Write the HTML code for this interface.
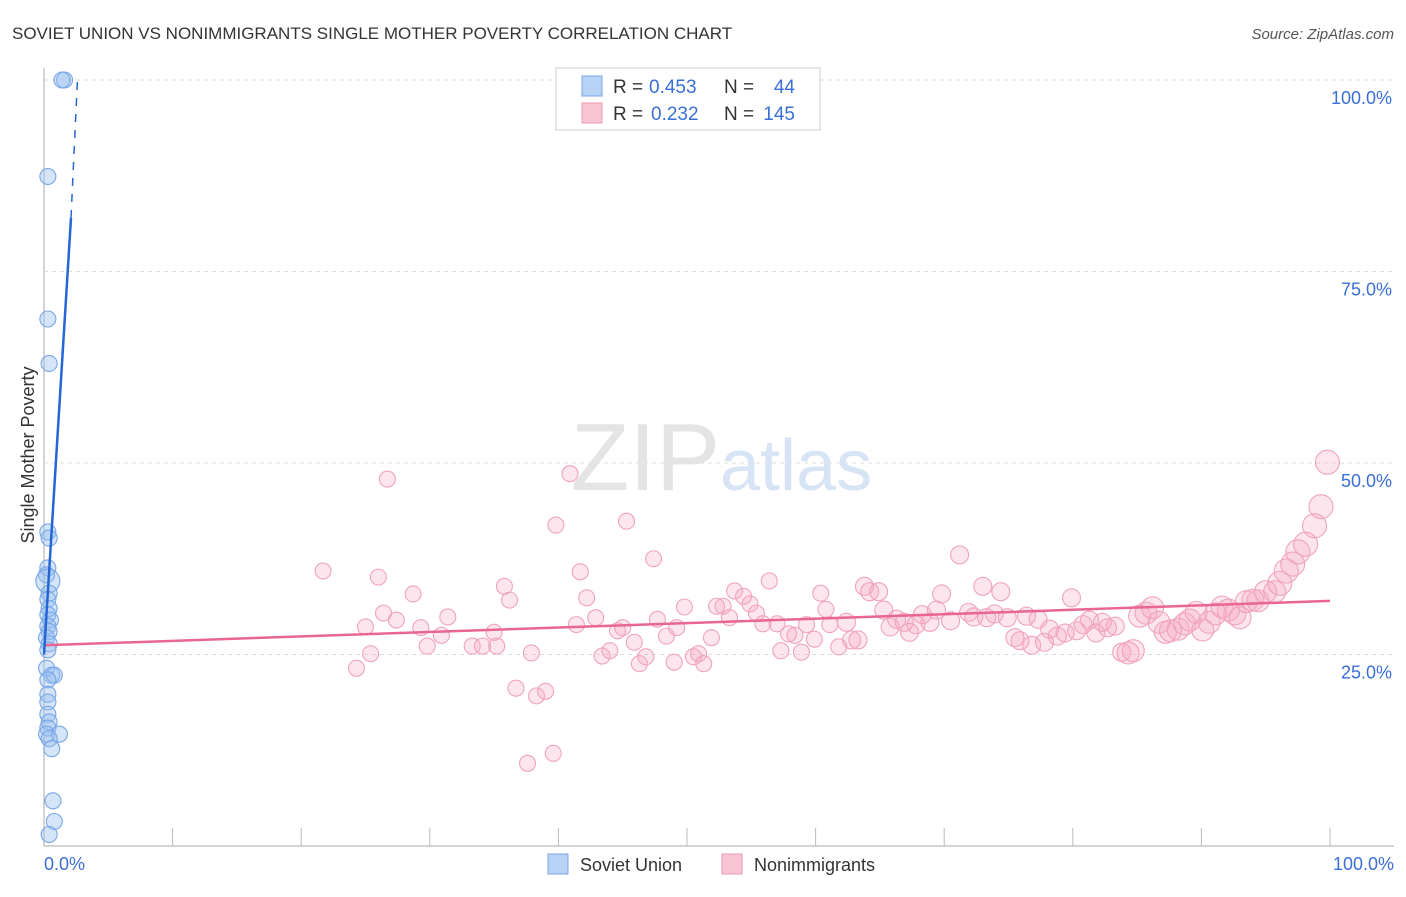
<!DOCTYPE html>
<html><head><meta charset="utf-8"><style>
body{margin:0;background:#fff;font-family:"Liberation Sans",sans-serif}
svg text{font-family:"Liberation Sans",sans-serif}
</style></head><body>
<svg id="chart" width="1406" height="892">
<text x="12" y="39" font-size="17" fill="#333">SOVIET UNION VS NONIMMIGRANTS SINGLE MOTHER POVERTY CORRELATION CHART</text>
<text x="1394" y="39" font-size="15" fill="#555" text-anchor="end" font-style="italic">Source: ZipAtlas.com</text>
<g id="grid"></g>
<text x="720" y="490" font-size="96" fill="#e4e4e4" text-anchor="end" font-family="Liberation Serif">ZIP</text>
<text x="720" y="490" font-size="72" fill="#d6e4f5">atlas</text>
<g id="marks"></g>
<text transform="translate(34,455) rotate(-90)" font-size="18" fill="#333" text-anchor="middle">Single Mother Poverty</text>
<text x="44" y="870" font-size="18" fill="#3a6fd6">0.0%</text>
<text x="1394" y="870" font-size="18" fill="#3a6fd6" text-anchor="end">100.0%</text>
<g>
<rect x="556" y="68" width="264" height="62" fill="#fff" stroke="#ccc"/>
<rect x="582" y="76" width="20" height="20" fill="#b8d2f5" stroke="#7aa6e6"/>
<rect x="582" y="103" width="20" height="20" fill="#f8c3d3" stroke="#ec9ab4"/>
<text x="613" y="93" font-size="19" fill="#333">R =</text>
<text x="649" y="93" font-size="19" fill="#3a6fd6">0.453</text>
<text x="724" y="93" font-size="19" fill="#333">N =</text>
<text x="795" y="93" font-size="19" fill="#3a6fd6" text-anchor="end">44</text>
<text x="613" y="120" font-size="19" fill="#333">R =</text>
<text x="651" y="120" font-size="19" fill="#3a6fd6">0.232</text>
<text x="724" y="120" font-size="19" fill="#333">N =</text>
<text x="795" y="120" font-size="19" fill="#3a6fd6" text-anchor="end">145</text>
</g>
<g>
<rect x="548" y="854" width="20" height="20" fill="#b8d2f5" stroke="#7aa6e6"/>
<text x="580" y="871" font-size="18" fill="#333">Soviet Union</text>
<rect x="722" y="854" width="20" height="20" fill="#f8c3d3" stroke="#ec9ab4"/>
<text x="754" y="871" font-size="18" fill="#333">Nonimmigrants</text>
</g>
</svg>
<script>
const yTicks=[25,50,75,100];
const yTickLabels=["25.0%","50.0%","75.0%","100.0%"];
const pinkX=[21.7,26.7,26.0,25.0,24.3,25.4,26.4,27.4,28.7,29.3,29.8,30.9,31.4,33.3,34.1,35.0,35.2,35.8,36.2,36.7,37.9,38.3,39.0,37.6,39.6,39.8,40.9,41.7,42.2,41.4,42.9,43.4,44.0,44.6,45.0,45.3,45.9,46.3,46.8,47.4,47.7,48.4,49.2,49.0,49.8,50.5,50.9,51.3,51.9,52.3,52.8,53.3,53.7,54.4,54.9,55.4,55.9,56.4,57.0,57.3,57.9,58.4,58.9,59.3,59.9,60.4,60.8,61.1,61.8,62.4,62.8,63.3,63.8,64.2,64.9,65.3,65.8,66.3,66.9,67.3,67.8,68.3,68.9,69.4,69.8,70.5,71.2,71.9,72.3,73.0,73.3,73.9,74.4,74.9,75.5,75.9,76.4,76.8,77.3,77.8,78.2,78.8,79.4,79.9,80.3,80.8,81.3,81.8,82.3,82.7,83.3,83.8,84.3,84.7,85.2,85.7,86.2,86.7,87.2,87.6,88.2,88.7,89.1,89.6,90.1,90.6,91.1,91.6,92.1,92.6,93.0,93.5,94.0,94.4,95.0,95.7,96.1,96.6,97.1,97.5,98.1,98.8,99.3,99.8];
const pinkY=[35.9,47.9,35.1,28.6,23.2,25.1,30.4,29.5,32.9,28.5,26.1,27.5,29.9,26.1,26.1,27.9,26.1,33.9,32.1,20.6,25.2,19.6,20.2,10.8,12.1,41.9,48.6,35.8,32.4,28.9,29.8,24.8,25.5,28.1,28.5,42.4,26.6,23.8,24.7,37.5,29.6,27.4,28.5,24.0,31.2,24.7,25.1,23.8,27.2,31.3,31.3,29.8,33.3,32.6,31.6,30.4,29.0,34.6,29.0,25.5,27.7,27.5,25.3,28.9,27.0,33.0,30.9,28.9,26.0,29.2,26.9,26.9,33.9,33.2,33.2,30.8,28.6,29.6,29.2,27.9,28.9,30.2,29.2,30.8,32.9,29.4,38.0,30.5,29.9,33.9,29.8,30.3,33.2,29.8,27.2,26.8,30.0,26.2,29.6,26.6,28.3,27.4,27.8,32.4,28.1,28.9,29.5,27.8,29.2,28.5,28.7,25.3,25.2,25.5,30.0,30.4,31.1,29.2,27.9,28.1,28.3,29.0,29.5,30.5,28.2,29.2,30.3,31.2,30.8,30.3,29.8,31.9,32.1,32.0,33.2,33.2,34.3,35.9,36.8,38.4,39.4,41.8,44.3,50.1];
const blueX=[1.6,1.4,0.3,0.3,0.4,0.3,0.4,0.3,0.2,0.3,0.4,0.3,0.4,0.3,0.5,0.3,0.4,0.2,0.4,0.3,0.2,0.6,0.8,0.3,0.3,0.3,0.3,0.4,0.3,0.2,1.2,0.4,0.6,0.7,0.8,0.4];
const blueY=[100,100,87.4,68.8,63,41,40.2,36.3,35.4,34.6,33,32.2,31,30.2,29.5,28.7,28,27.2,26.4,25.6,23.2,22.3,22.3,21.7,19.8,18.8,17.2,16.2,15.4,14.6,14.6,14,12.7,5.9,3.2,1.5];
const pinkTrend=[26.2,32.0];
const blueTrend=[[0,25],[2.1,82],[2.6,100]];
const X=v=>44+v*12.86, Y=v=>846-v*7.66;
const NS="http://www.w3.org/2000/svg";
function mk(t,a,p){const e=document.createElementNS(NS,t);for(const k in a)e.setAttribute(k,a[k]);p.appendChild(e);return e;}
const g=document.getElementById('grid'), m=document.getElementById('marks');
mk('line',{x1:44,y1:68,x2:44,y2:846,stroke:'#aaa'},g);
mk('line',{x1:44,y1:846,x2:1394,y2:846,stroke:'#aaa'},g);
for(let i=1;i<=10;i++){const t=mk('line',{x1:X(i*10),x2:X(i*10),y1:828,y2:846,stroke:'#bbb'},g);

}
yTicks.forEach((v,i)=>{const l=mk('line',{x1:44,x2:1394,y1:Y(v),y2:Y(v),stroke:'#ddd','stroke-dasharray':'4,4'},g);


const t=mk('text',{x:1392,y:Y(v)+24,'font-size':18,fill:'#3a6fd6','text-anchor':'end'},g);t.textContent=yTickLabels[i];

});
pinkX.forEach((x,i)=>{const r=x>84?(x>96?12:11):(x>62?9:8);
const c=mk('circle',{cx:X(x),cy:Y(pinkY[i]),r:r,fill:'rgba(246,170,195,0.3)',stroke:'#f0a3bc','stroke-width':1.1},m);

});
blueX.forEach((x,i)=>{const c=mk('circle',{cx:X(x),cy:Y(blueY[i]),r:blueY[i]==34.6?12:8,fill:'rgba(150,190,240,0.4)',stroke:'#78a6e6','stroke-width':1.1},m);

});
const pl=mk('line',{x1:X(0),y1:Y(pinkTrend[0]),x2:X(100),y2:Y(pinkTrend[1]),stroke:'#e8668f','stroke-width':2.5},m);


const bl=mk('line',{x1:X(blueTrend[0][0]),y1:Y(blueTrend[0][1]),x2:X(blueTrend[1][0]),y2:Y(blueTrend[1][1]),stroke:'#2466d6','stroke-width':2.5},m);


const bd=mk('line',{x1:X(blueTrend[1][0]),y1:Y(blueTrend[1][1]),x2:X(blueTrend[2][0]),y2:Y(blueTrend[2][1]),stroke:'#2466d6','stroke-width':1.5,'stroke-dasharray':'8,8'},m);


</script>
</body></html>
